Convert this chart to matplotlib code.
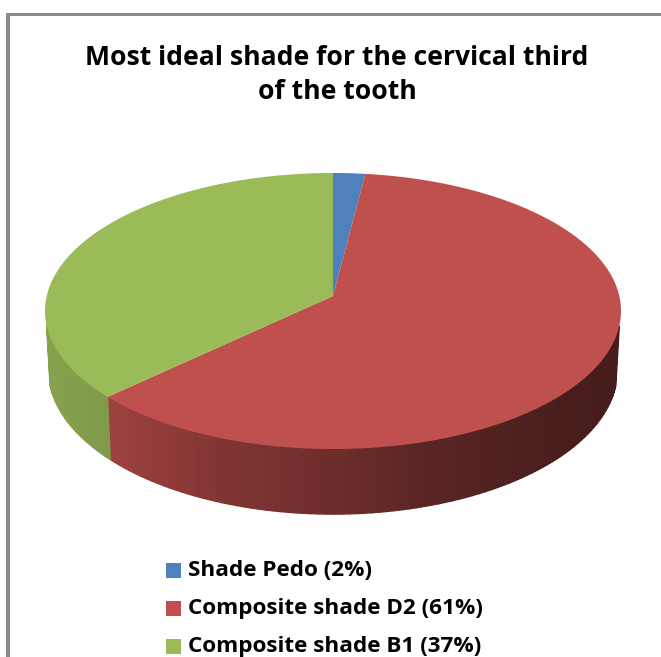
import numpy as np
import matplotlib
matplotlib.use('Agg')
import matplotlib.pyplot as plt
from matplotlib.collections import PolyCollection
from matplotlib.colors import to_rgb
from matplotlib.patches import Rectangle

title = 'Most ideal shade for the cervical third\nof the tooth'
labels = ['Shade Pedo (2%)', 'Composite shade D2 (61%)', 'Composite shade B1 (37%)']
values = [2, 61, 37]
colors = ['#4f81bd', '#c0504d', '#9bbb59']

# pie geometry in pixels, perspective from the circle to the screen
cx, cy = 333, 296
top_a, top_b, top_c, top_d = -104.2, 296, 0.1087, 286.3
depth = 58
shrink = 0.988


def project(t):
    u, v = np.sin(t), np.cos(t)
    w = 1 + top_c * v
    return cx + top_d * u / w, (top_a * v + top_b) / w, w


def side_color(col, x):
    # side gets darker going right
    f = np.interp(x, [45, 110, 230, 333, 430, 560, 621],
                  [0.87, 0.82, 0.66, 0.57, 0.46, 0.38, 0.36])
    return tuple(c * f for c in to_rgb(col))


fig = plt.figure(figsize=(6.61, 6.57), dpi=100)
ax = fig.add_axes([0, 0, 1, 1])
ax.set_xlim(0, 661)
ax.set_ylim(657, 0)
ax.axis('off')

# frame
ax.add_patch(Rectangle((6, 13), 655, 3, color='#8c8c8c', lw=0))
ax.add_patch(Rectangle((6, 13), 4, 644, color='#8c8c8c', lw=0))

edges = np.cumsum([0] + values) / sum(values) * 2 * np.pi

# side wall, only the part facing the viewer
for i, col in enumerate(colors):
    ts = np.linspace(edges[i], edges[i + 1], 160)
    ts = ts[np.cos(ts) < -0.2]
    polys, cols = [], []
    for t0, t1 in zip(ts[:-1], ts[1:]):
        x0, y0, w0 = project(t0)
        x1, y1, w1 = project(t1)
        bx0 = cx + (x0 - cx) * shrink
        bx1 = cx + (x1 - cx) * shrink
        polys.append([(x0, y0), (x1, y1), (bx1, y1 + depth / w1), (bx0, y0 + depth / w0)])
        cols.append(side_color(col, (x0 + x1) / 2))
    if polys:
        ax.add_collection(PolyCollection(polys, facecolors=cols, edgecolors=cols, linewidths=1))

# top face
for i, col in enumerate(colors):
    ts = np.linspace(edges[i], edges[i + 1], 200)
    xs, ys, _ = project(ts)
    pts = [(cx, cy)] + list(zip(xs, ys))
    ax.fill(*zip(*pts), color=col, lw=0)

ax.text(337, 75, title, ha='center', va='center', fontsize=19.1, fontweight='bold',
        family='Open Sans', color='black', linespacing=1.42)

# legend
leg_y = [570.5, 608.5, 646.5]
for lab, col, y in zip(labels, colors, leg_y):
    ax.add_patch(Rectangle((166, y - 7.5), 15, 15, color=col, lw=0))
    ax.text(188, y, lab, ha='left', va='center', fontsize=16.2, fontweight='bold',
            family='Open Sans', color='black')

fig.savefig('out.png', dpi=100)
